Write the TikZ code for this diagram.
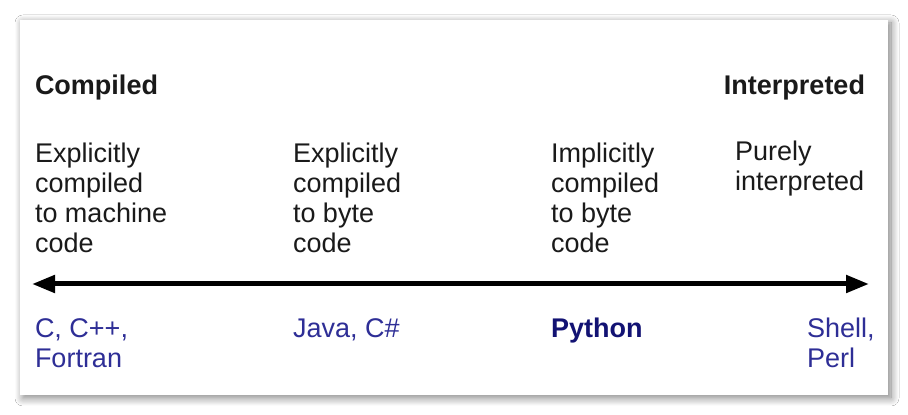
\documentclass[tikz,border=0pt]{standalone}
\usepackage{fontspec}
\setmainfont{Liberation Sans}
\usetikzlibrary{arrows.meta,shadows.blur}
\definecolor{txt}{RGB}{26,26,26}
\definecolor{langblue}{RGB}{46,46,150}
\definecolor{pyblue}{RGB}{18,18,115}
\begin{document}
\begin{tikzpicture}[x=1pt,y=1pt,
  every node/.style={inner sep=0pt,outer sep=0pt},
  head/.style={anchor=base west,font=\fontsize{27}{30}\selectfont\bfseries,text=txt},
  desc/.style={anchor=base west,align=left,font=\fontsize{27}{30}\selectfont,text=txt},
  lang/.style={anchor=base west,align=left,font=\fontsize{27}{30}\selectfont,text=langblue},
  axis/.style={line width=5pt,draw=black,{Triangle[length=23pt,width=17pt]}-{Triangle[length=23pt,width=17pt]}},
  panel/.style={fill=white,draw=none,blur shadow={shadow xshift=3pt,shadow yshift=-3pt,shadow blur radius=8pt,shadow blur steps=12,shadow opacity=50}}]
\useasboundingbox (0,0) rectangle (908,415);
\fill[white] (0,0) rectangle (908,415);
\path[panel] (20,20) rectangle (888,395);
\node[head] (compiled) at (35,320) {Compiled};
\node[head,anchor=base east] (interp) at (865,320) {Interpreted};
\node[desc] (d1) at (35,162) {Explicitly\\compiled\\to machine\\code};
\node[desc] (d2) at (293,162) {Explicitly\\compiled\\to byte\\code};
\node[desc] (d3) at (551,162) {Implicitly\\compiled\\to byte\\code};
\node[desc] (d4) at (735,224) {Purely\\interpreted};
\coordinate (L) at (32,131);
\coordinate (R) at (869,131);
\draw[axis] (L) -- (R);
\node[lang] (l1) at (35,47) {C, C++,\\Fortran};
\node[lang] (l2) at (293,77) {Java, C\#};
\node[lang,text=pyblue,font=\fontsize{27}{30}\selectfont\bfseries] (l3) at (551,77) {Python};
\node[lang] (l4) at (807,47) {Shell,\\Perl};
\end{tikzpicture}
\end{document}
